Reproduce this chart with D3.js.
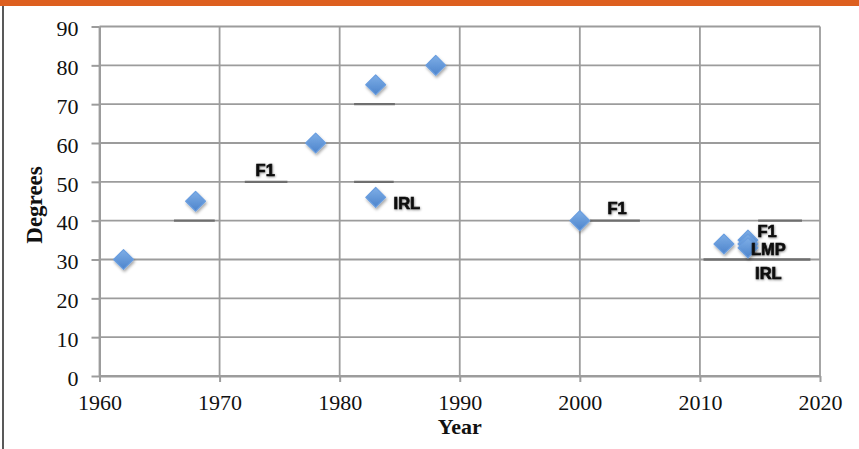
<!DOCTYPE html>
<html>
<head>
<meta charset="utf-8">
<script src="https://cdn.jsdelivr.net/npm/d3@7/dist/d3.min.js"></script>
<style>
  html, body { margin: 0; padding: 0; background: #fff; }
  svg { display: block; }
  .tick text { font-family: "Liberation Serif", "DejaVu Serif", serif; }
</style>
</head>
<body>
<svg id="chart" width="859" height="449"></svg>
<script>
// Scatter series: year of each design and its angle in degrees
const years   = [1962, 1968, 1978, 1983, 1983, 1988, 2000, 2012, 2014, 2014, 2014];
const degrees = [30,   45,   60,   75,   46,   80,   40,   34,   35,   34,   33];

// Category labels placed beside the points (anchor in data units)
const labelText  = ["F1", "IRL", "F1", "F1", "LMP", "IRL"];
const labelYear  = [1973.8, 1985.6, 2003.1, 2015.6, 2015.7, 2015.7];
const labelValue = [53.0, 44.5, 43.3, 37.4, 32.6, 26.5];

// Short darker rules under the labels
const ruleFrom  = [1966.2, 1972.1, 1981.2, 1981.2, 2000.85, 2014.85, 2010.3];
const ruleTo    = [1969.6, 1975.65, 1984.6, 1984.5, 2005.0, 2018.5, 2019.2];
const ruleValue = [40, 50, 70, 50, 40, 40, 30];

// Axis ticks
const xTicks = [1960, 1970, 1980, 1990, 2000, 2010, 2020];
const yTicks = [0, 10, 20, 30, 40, 50, 60, 70, 80, 90];

const svg = d3.select("#chart");
const W = 859, H = 449;

const x = d3.scaleLinear().domain([1960, 2020]).range([99.5, 820]);
const y = d3.scaleLinear().domain([0, 90]).range([376, 26.5]);

// Header band and left frame line
svg.append("rect").attr("x", 0).attr("y", 0).attr("width", W).attr("height", 6).attr("fill", "#dd5f1f");
svg.append("line").attr("x1", 3).attr("x2", 3).attr("y1", 6).attr("y2", H)
  .attr("stroke", "#222").attr("stroke-width", 1.5);

const defs = svg.append("defs");
const grad = defs.append("linearGradient").attr("id", "mk").attr("x1", 0).attr("y1", 0).attr("x2", 0).attr("y2", 1);
grad.append("stop").attr("offset", "0%").attr("stop-color", "#7eaee6");
grad.append("stop").attr("offset", "100%").attr("stop-color", "#4d84cc");
const sh = defs.append("filter").attr("id", "sh").attr("x", "-50%").attr("y", "-50%").attr("width", "200%").attr("height", "200%");
sh.append("feDropShadow").attr("dx", 1).attr("dy", 2).attr("stdDeviation", 1.6)
  .attr("flood-color", "#000").attr("flood-opacity", 0.35);
const ts = defs.append("filter").attr("id", "ts").attr("x", "-30%").attr("y", "-30%").attr("width", "160%").attr("height", "160%");
ts.append("feDropShadow").attr("dx", 0.6).attr("dy", 0.8).attr("stdDeviation", 0.8)
  .attr("flood-color", "#000").attr("flood-opacity", 0.45);

const gridColor = "#9c9c9c";

// Gridlines
svg.append("g").selectAll("line").data(yTicks).join("line")
  .attr("x1", x(1960)).attr("x2", x(2020))
  .attr("y1", d => y(d)).attr("y2", d => y(d))
  .attr("stroke", gridColor).attr("stroke-width", 1.8);
svg.append("g").selectAll("line").data(xTicks).join("line")
  .attr("x1", d => x(d)).attr("x2", d => x(d))
  .attr("y1", y(0)).attr("y2", y(90))
  .attr("stroke", gridColor).attr("stroke-width", 1.8);

// Axes
const yAxis = svg.append("g").attr("transform", `translate(${x(1960)},0)`)
  .call(d3.axisLeft(y).tickValues(yTicks).tickSize(8).tickSizeOuter(0).tickPadding(13));
const xAxis = svg.append("g").attr("transform", `translate(0,${y(0)})`)
  .call(d3.axisBottom(x).tickValues(xTicks).tickFormat(d3.format("d")).tickSize(6).tickSizeOuter(0).tickPadding(12));
[yAxis, xAxis].forEach(a => {
  a.selectAll(".domain").attr("stroke", gridColor).attr("stroke-width", 2);
  a.selectAll(".tick line").attr("stroke", gridColor).attr("stroke-width", 2);
  a.selectAll(".tick text").attr("fill", "#111").style("font-size", "22px");
});
yAxis.selectAll(".tick text").attr("dy", "0.42em");

// Darker rules
svg.append("g").selectAll("line").data(ruleValue).join("line")
  .attr("x1", (d, i) => x(ruleFrom[i])).attr("x2", (d, i) => x(ruleTo[i]))
  .attr("y1", d => y(d)).attr("y2", d => y(d))
  .attr("stroke", "#6f6f6f").attr("stroke-width", 2.4);

// Diamond markers
const diamond = d3.symbol().type(d3.symbolDiamond2).size(250);
svg.append("g").selectAll("path").data(degrees).join("path")
  .attr("d", diamond)
  .attr("transform", (d, i) => `translate(${x(years[i])},${y(d)})`)
  .attr("fill", "url(#mk)")
  .attr("stroke", "#6a9ee0").attr("stroke-width", 1.2).attr("stroke-linejoin", "round")
  .attr("filter", "url(#sh)");

// Point labels
svg.append("g").selectAll("text").data(labelText).join("text")
  .attr("x", (d, i) => x(labelYear[i]))
  .attr("y", (d, i) => y(labelValue[i]))
  .attr("dy", "0.36em")
  .attr("text-anchor", "middle")
  .attr("font-family", "'Liberation Sans', Arial, sans-serif")
  .attr("font-weight", "bold")
  .attr("font-size", 16.5)
  .attr("fill", "#111")
  .attr("stroke", "#111").attr("stroke-width", 0.7)
  .attr("filter", "url(#ts)")
  .text(d => d);

// Axis titles
svg.append("text")
  .attr("transform", `translate(42,205) rotate(-90)`)
  .attr("text-anchor", "middle")
  .attr("font-family", "'Liberation Serif', serif").attr("font-weight", "bold")
  .attr("font-size", 23).attr("fill", "#111")
  .text("Degrees");
svg.append("text")
  .attr("x", x(1990)).attr("y", 434)
  .attr("text-anchor", "middle")
  .attr("font-family", "'Liberation Serif', serif").attr("font-weight", "bold")
  .attr("font-size", 22).attr("fill", "#111")
  .text("Year");
</script>
</body>
</html>
